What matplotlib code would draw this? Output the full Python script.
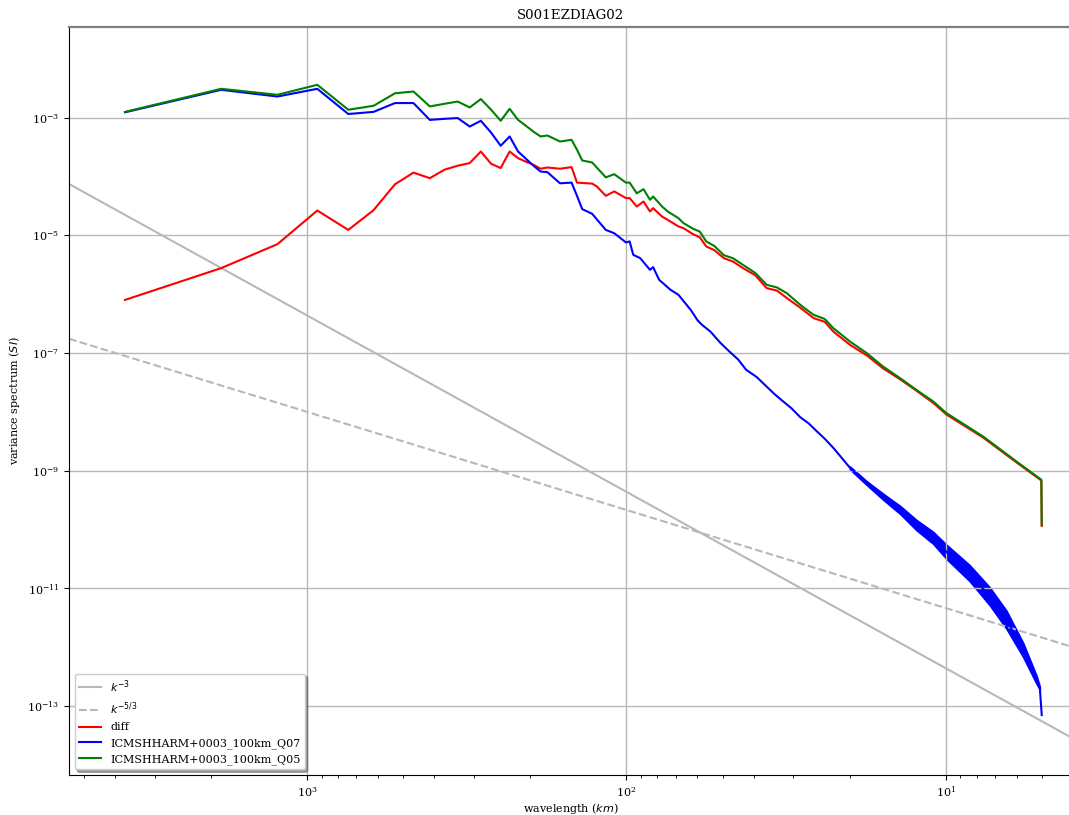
import numpy as np
import matplotlib
matplotlib.use("Agg")
import matplotlib.pyplot as plt
from matplotlib.ticker import NullLocator, LogLocator

plt.rcParams['font.family'] = 'serif'
plt.rcParams['font.size'] = 8

# domain length (km): wavelength = domain_km / k
domain_km = 3712.0

# guide slopes, end points
k_ref = [0.668, 928.0]
ref_k3 = [7.5e-5, 2.8e-14]
ref_k53 = [1.75e-7, 1.0e-12]

# diff spectrum
k_diff = [1, 2, 3, 4, 5, 6, 7, 8, 9, 10, 11, 12, 13, 14, 15, 16, 17, 18, 19, 20,
          21, 23, 25, 26, 29, 30, 32, 34, 37, 38, 40, 42, 44, 45, 48, 50, 54, 56,
          60, 63, 66, 70, 75, 80, 86, 94, 102, 110, 118, 130, 143, 155, 165, 186,
          210, 236, 267, 300, 339, 373, 486, 618, 739, 741]
diff = [8.0e-7, 2.78e-6, 7.1e-6, 2.65e-5, 1.24e-5, 2.69e-5, 7.4e-5, 1.17e-4,
        9.4e-5, 1.31e-4, 1.53e-4, 1.70e-4, 2.67e-4, 1.65e-4, 1.40e-4, 2.67e-4,
        2.06e-4, 1.79e-4, 1.59e-4, 1.36e-4, 1.43e-4, 1.36e-4, 1.45e-4, 7.9e-5,
        7.6e-5, 6.8e-5, 4.71e-5, 5.6e-5, 4.31e-5, 4.31e-5, 3.10e-5, 3.77e-5,
        2.55e-5, 2.91e-5, 2.09e-5, 1.84e-5, 1.42e-5, 1.33e-5, 1.05e-5, 9.3e-6,
        6.5e-6, 5.6e-6, 4.1e-6, 3.6e-6, 2.78e-6, 2.1e-6, 1.27e-6, 1.15e-6,
        8.6e-7, 5.9e-7, 3.93e-7, 3.4e-7, 2.32e-7, 1.38e-7, 9.1e-8, 5.5e-8,
        3.57e-8, 2.30e-8, 1.42e-8, 9.0e-9, 3.65e-9, 1.38e-9, 6.8e-10, 1.15e-10]

# Q07 spectrum
k_q07 = [1, 2, 3, 4, 5, 6, 7, 8, 9, 10, 11, 12, 13, 14, 15, 16, 17, 18, 19, 20,
         21, 23, 25, 26, 27, 29, 32, 34, 37, 38, 39, 41, 44, 45, 47, 51, 54, 59,
         62, 64, 68, 73, 78, 83, 88, 95, 102, 108, 115, 122, 130, 138, 146, 155,
         165, 186, 210, 236, 267, 300, 339, 373, 441, 510, 575, 648, 714, 731,
         741]
q07 = [1.24e-3, 2.99e-3, 2.30e-3, 3.11e-3, 1.16e-3, 1.26e-3, 1.78e-3, 1.78e-3,
       9.2e-4, 9.6e-4, 9.9e-4, 7.1e-4, 8.9e-4, 5.6e-4, 3.34e-4, 4.81e-4, 2.67e-4,
       2.01e-4, 1.53e-4, 1.22e-4, 1.19e-4, 7.7e-5, 7.9e-5, 4.71e-5, 2.80e-5,
       2.33e-5, 1.24e-5, 1.09e-5, 7.6e-6, 7.9e-6, 4.68e-6, 4.11e-6, 2.60e-6,
       2.89e-6, 1.76e-6, 1.19e-6, 9.8e-7, 5.43e-7, 3.6e-7, 3.02e-7, 2.32e-7,
       1.5e-7, 1.06e-7, 7.8e-8, 5.2e-8, 3.9e-8, 2.69e-8, 2.0e-8, 1.50e-8,
       1.15e-8, 8.1e-9, 6.4e-9, 4.75e-9, 3.5e-9, 2.44e-9, 1.12e-9, 6.1e-10,
       3.63e-10, 2.16e-10, 1.20e-10, 7.2e-11, 4.16e-11, 1.81e-11, 7.2e-12,
       2.90e-12, 8.9e-13, 2.77e-13, 2.0e-13, 7.0e-14]

# spread of the Q07 curve at small scales
k_q07_band = [186, 210, 236, 267, 300, 339, 373, 441, 510, 575, 648, 714, 731]
q07_hi = [1.18e-9, 6.6e-10, 4.08e-10, 2.52e-10, 1.46e-10, 9.1e-11, 5.5e-11,
          2.47e-11, 1.03e-11, 4.13e-12, 1.18e-12, 3.24e-13, 2.12e-13]
q07_lo = [1.05e-9, 5.7e-10, 3.23e-10, 1.84e-10, 9.8e-11, 5.7e-11, 3.16e-11,
          1.32e-11, 5.1e-12, 2.04e-12, 6.8e-13, 2.37e-13, 1.89e-13]

# Q05 spectrum
k_q05 = [1, 2, 3, 4, 5, 6, 7, 8, 9, 10, 11, 12, 13, 14, 15, 16, 17, 18, 19, 20,
         21, 23, 25, 26, 27, 29, 32, 34, 37, 38, 40, 42, 44, 45, 48, 50, 54, 56,
         60, 63, 66, 70, 75, 80, 86, 94, 102, 110, 118, 130, 143, 155, 165, 186,
         210, 236, 267, 300, 339, 373, 486, 618, 739, 741]
q05 = [1.26e-3, 3.11e-3, 2.46e-3, 3.64e-3, 1.37e-3, 1.60e-3, 2.61e-3, 2.80e-3,
       1.56e-3, 1.73e-3, 1.89e-3, 1.50e-3, 2.08e-3, 1.37e-3, 8.9e-4, 1.42e-3,
       9.2e-4, 7.3e-4, 5.8e-4, 4.81e-4, 5.0e-4, 3.95e-4, 4.22e-4, 2.86e-4,
       1.88e-4, 1.74e-4, 9.7e-5, 1.10e-4, 7.9e-5, 7.9e-5, 5.2e-5, 6.1e-5,
       4.03e-5, 4.59e-5, 3.10e-5, 2.55e-5, 1.97e-5, 1.62e-5, 1.30e-5, 1.16e-5,
       7.9e-6, 6.6e-6, 4.6e-6, 4.1e-6, 3.16e-6, 2.3e-6, 1.45e-6, 1.3e-6,
       1.04e-6, 6.6e-7, 4.47e-7, 3.8e-7, 2.65e-7, 1.57e-7, 9.95e-8, 5.9e-8,
       3.74e-8, 2.37e-8, 1.50e-8, 9.5e-9, 3.80e-9, 1.43e-9, 7.0e-10, 1.20e-10]


def wl(k):
    return domain_km / np.asarray(k, dtype=float)


fig = plt.figure(figsize=(10.69, 8.15), dpi=100)
ax = fig.add_axes([0.0645, 0.0491, 0.9392, 0.9178])

ax.plot(wl(k_ref), ref_k3, color='0.72', lw=1.5, label=r'$k^{-3}$')
ax.plot(wl(k_ref), ref_k53, color='0.72', lw=1.5, ls='--', label=r'$k^{-5/3}$')
ax.plot(wl(k_diff), diff, color='r', lw=1.5, label='diff')
ax.fill_between(wl(k_q07_band), q07_lo, q07_hi, color='b', lw=1.2)
ax.plot(wl(k_q07), q07, color='b', lw=1.5, label='ICMSHHARM+0003_100km_Q07')
ax.plot(wl(k_q05), q05, color='g', lw=1.5, label='ICMSHHARM+0003_100km_Q05')

ax.set_xscale('log')
ax.set_yscale('log')
ax.set_xlim(5560, 4.0)
ax.set_ylim(6.7e-15, 3.5e-2)
ax.set_yticks([1e-3, 1e-5, 1e-7, 1e-9, 1e-11, 1e-13])
ax.yaxis.set_minor_locator(NullLocator())
ax.xaxis.set_minor_locator(LogLocator(base=10, subs=np.arange(2, 10)))
ax.grid(True, which='major', color='0.72', lw=1.0)

ax.spines['top'].set_color('0.5')
ax.spines['top'].set_linewidth(1.6)
ax.spines['right'].set_visible(False)

ax.set_title('S001EZDIAG02')
ax.set_xlabel(r'wavelength ($km$)', labelpad=1.5)
ax.set_ylabel(r'variance spectrum ($SI$)')
ax.legend(loc='lower left', shadow=True, fontsize=8)

fig.savefig('out.png', dpi=100)
